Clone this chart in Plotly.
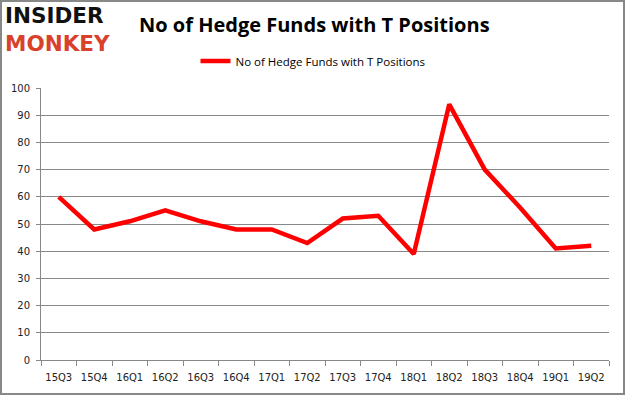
import plotly.graph_objects as go

quarters = ["15Q3", "15Q4", "16Q1", "16Q2", "16Q3", "16Q4", "17Q1", "17Q2",
            "17Q3", "17Q4", "18Q1", "18Q2", "18Q3", "18Q4", "19Q1", "19Q2"]
funds = [60, 48, 51, 55, 51, 48, 48, 43, 52, 53, 39, 94, 70, 56, 41, 42]
series_name = "No of Hedge Funds with T Positions"
title_text = "No of Hedge Funds with T Positions"

W, H = 625, 395
L, R, T, B = 41, 16, 88, 35
pw, ph = W - L - R, H - T - B

fig = go.Figure()
fig.add_trace(go.Scatter(x=quarters, y=funds, mode="lines", name=series_name,
                         line=dict(color="#ff0000", width=4.5)))

def px(x):
    return (x - L) / pw

def py(y):
    return (H - B - y) / ph

logo_font = "DejaVu Sans, sans-serif"

fig.update_layout(
    width=W, height=H,
    margin=dict(l=L, r=R, t=T, b=B, autoexpand=False),
    paper_bgcolor="white", plot_bgcolor="white",
    showlegend=True,
    legend=dict(orientation="h", x=px(313), xanchor="center", y=py(61), yanchor="middle",
                font=dict(family="Open Sans, sans-serif", size=11.5, color="#000000"),
                bgcolor="rgba(0,0,0,0)", itemwidth=30),
    xaxis=dict(type="category", range=[-0.5, len(quarters) - 0.5],
               tickson="boundaries", ticks="outside", ticklen=5, tickangle=0,
               tickcolor="#888888", showline=True, linecolor="#888888", linewidth=1,
               showgrid=False, ticklabelstandoff=8,
               tickfont=dict(family="DejaVu Sans, sans-serif", size=10, color="#222222")),
    yaxis=dict(range=[0, 100], dtick=10, showgrid=True, gridcolor="#888888", gridwidth=1,
               showline=True, linecolor="#888888", ticks="outside", ticklen=4, tickcolor="#888888",
               zeroline=False, ticklabelstandoff=4,
               tickfont=dict(family="DejaVu Sans, sans-serif", size=10, color="#222222")),
    annotations=[
        dict(text="<b>" + title_text + "</b>", xref="paper", yref="paper",
             x=px(314), y=py(25), xanchor="center", yanchor="middle", showarrow=False,
             font=dict(family="Open Sans, sans-serif", size=20, color="#000000")),
        dict(text="<b>INSIDER</b>", xref="paper", yref="paper", borderpad=0,
             x=px(4), y=py(29.5), xanchor="left", yanchor="bottom", showarrow=False,
             font=dict(family=logo_font, size=21.5, color="#111111")),
        dict(text="<b>MONKEY</b>", xref="paper", yref="paper", borderpad=0,
             x=px(4), y=py(30), xanchor="left", yanchor="top", showarrow=False,
             font=dict(family=logo_font, size=21.5, color="#d9412b")),
    ],
    shapes=[dict(type="rect", xref="paper", yref="paper",
                 x0=px(1), x1=px(W - 1), y0=py(H - 1), y1=py(1),
                 line=dict(color="#888888", width=2), fillcolor="rgba(0,0,0,0)", layer="below")],
)

fig.write_html("out.html", config={"displayModeBar": False},
               post_script="document.body.style.margin='0';document.body.style.padding='0';")
